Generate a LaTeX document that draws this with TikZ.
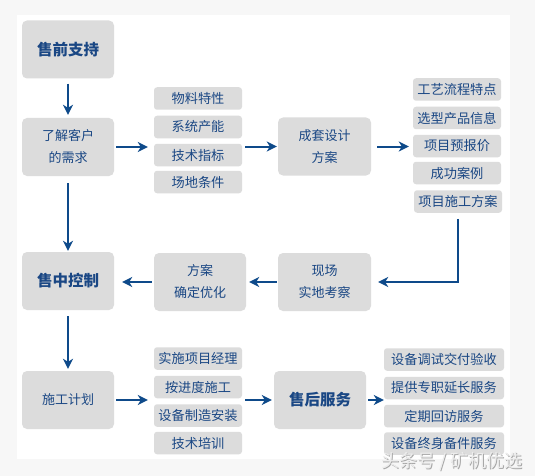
\documentclass[tikz,border=0pt]{standalone}
\usepackage{fontspec}
\setmainfont{Noto Sans CJK SC}
\usetikzlibrary{arrows.meta}
\definecolor{bgout}{HTML}{F7F7F7}
\definecolor{boxfill}{HTML}{DCDCDC}
\definecolor{txtblue}{HTML}{1A4784}
\definecolor{arrblue}{HTML}{0E4A8A}
\definecolor{wmgray}{HTML}{EDEDED}
\definecolor{wmedge}{HTML}{A8A8A8}
\tikzset{
  bigbox/.style={fill=boxfill, rounded corners=5pt, minimum width=92pt, minimum height=58pt, inner sep=0pt, text=txtblue, align=center, font=\fontsize{13}{22}\selectfont},
  titlebox/.style={bigbox, font=\fontsize{15.5}{20}\selectfont\bfseries},
  smallbox/.style={fill=boxfill, rounded corners=3pt, minimum width=88pt, minimum height=22.5pt, inner sep=0pt, text=txtblue, font=\fontsize{13.2}{15}\selectfont},
  widebox/.style={smallbox, minimum width=120pt},
  flow/.style={draw=arrblue, line width=2pt, -{Stealth[length=10pt,width=10pt,inset=3pt]}},
  wmark/.style={font=\fontsize{18}{20}\selectfont, anchor=east, inner sep=0pt},
}
\begin{document}
\begin{tikzpicture}[x=1pt,y=-1pt]
\fill[bgout] (0,0) rectangle (535,476);
\fill[white] (17,15) rectangle (510,459);
\useasboundingbox (0,0) rectangle (535,476);

\node[titlebox] (pre) at (68,49.5) {售前支持};
\node[bigbox] (need) at (68,147) {了解客户\\的需求};
\node[smallbox] (m1) at (198,98.5) {物料特性};
\node[smallbox] (m2) at (198,127) {系统产能};
\node[smallbox] (m3) at (198,155) {技术指标};
\node[smallbox] (m4) at (198,182) {场地条件};
\node[bigbox, minimum width=93pt] (design) at (324.5,146.5) {成套设计\\方案};
\node[smallbox] (r1) at (457,89.5) {工艺流程特点};
\node[smallbox] (r2) at (457,118) {选型产品信息};
\node[smallbox] (r3) at (457,146) {项目预报价};
\node[smallbox] (r4) at (457,173) {成功案例};
\node[smallbox] (r5) at (458,201.5) {项目施工方案};
\node[bigbox, minimum width=93pt] (site) at (324.5,282) {现场\\实地考察};
\node[bigbox] (opt) at (200,282) {方案\\确定优化};
\node[titlebox] (mid) at (68,281) {售中控制};
\node[bigbox] (plan) at (68,400) {施工计划};
\node[smallbox] (s1) at (198,358.5) {实施项目经理};
\node[smallbox] (s2) at (198,387) {按进度施工};
\node[smallbox] (s3) at (198,415.5) {设备制造安装};
\node[smallbox] (s4) at (198,443) {技术培训};
\node[titlebox] (after) at (320,400) {售后服务};
\node[widebox] (a1) at (444,359.5) {设备调试交付验收};
\node[widebox] (a2) at (444,388) {提供专职延长服务};
\node[widebox] (a3) at (444,416) {定期回访服务};
\node[widebox] (a4) at (444,443.5) {设备终身备件服务};

\coordinate (turn) at (r5.south |- site.east);

\draw[flow, shorten <=5pt, shorten >=3pt] (pre.south) -- (need.north);
\draw[flow, shorten <=2pt, shorten >=6pt] (need.east) -- (need.east -| m3.west);
\draw[flow, shorten <=3pt, shorten >=1pt] (m3.east |- design.west) -- (design.west);
\draw[flow, shorten <=6pt, shorten >=4pt] (design.east) -- (design.east -| r3.west);
\draw[flow, shorten <=6pt, shorten >=7pt] (r5.south) -- (turn) -- (site.east);
\draw[flow, shorten <=1pt, shorten >=3pt] (site.west) -- (opt.east);
\draw[flow, shorten <=2pt, shorten >=8pt] (opt.west) -- (opt.west -| mid.east);
\draw[flow, shorten <=7pt, shorten >=1pt] (need.south) -- (mid.north);
\draw[flow, shorten <=6pt, shorten >=2pt] (mid.south) -- (plan.north);
\draw[flow, shorten <=2pt, shorten >=6pt] (plan.east) -- (plan.east -| s2.west);
\draw[flow, shorten <=3pt, shorten >=2pt] (s2.east |- after.west) -- (after.west);
\draw[flow, shorten <=2pt, shorten >=0pt] (after.east) -- (after.east -| a2.west);

\node[wmark, text=wmedge] (wmshadow) at (523.8,462.8) {头条号 / 矿机优选};
\node[wmark, text=wmgray] (wm) at (523,462) {头条号 / 矿机优选};
\end{tikzpicture}
\end{document}
